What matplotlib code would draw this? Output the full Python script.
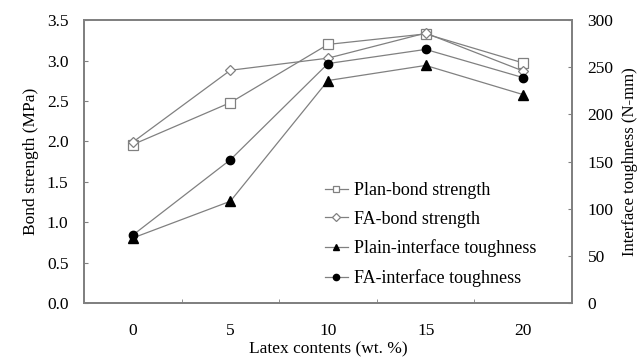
import matplotlib
matplotlib.use('Agg')
import matplotlib.pyplot as plt
from matplotlib.ticker import FixedLocator

latex = [0, 5, 10, 15, 20]
plan_bond = [1.96, 2.48, 3.20, 3.33, 2.97]
fa_bond = [1.99, 2.88, 3.03, 3.34, 2.87]
plain_tough = [69, 108, 236, 252, 221]
fa_tough = [72, 152, 254, 269, 239]

plt.rcParams['font.family'] = ['Liberation Serif', 'DejaVu Serif']
plt.rcParams['font.size'] = 12.5

gray = '#808080'
fig = plt.figure(figsize=(6.4, 3.6), dpi=100)
ax = fig.add_axes([0.131, 0.158, 0.763, 0.786])
ax2 = ax.twinx()

ax.plot(latex, plan_bond, '-s', color=gray, lw=0.9, ms=6.5,
        mfc='white', mec=gray, mew=0.9, label='Plan-bond strength')
ax.plot(latex, fa_bond, '-D', color=gray, lw=0.9, ms=5,
        mfc='white', mec=gray, mew=0.9, label='FA-bond strength')
ax2.plot(latex, plain_tough, '-^', color=gray, lw=0.9, ms=6.5,
         mfc='black', mec='black', label='Plain-interface toughness')
ax2.plot(latex, fa_tough, '-o', color=gray, lw=0.9, ms=6,
         mfc='black', mec='black', label='FA-interface toughness')

ax.set_xlim(-2.5, 22.5)
ax.set_ylim(0, 3.5)
ax2.set_ylim(0, 300)
ax.set_xticks(latex)
ax.xaxis.set_minor_locator(FixedLocator([2.5, 7.5, 12.5, 17.5]))
ax.tick_params(axis='x', which='major', length=0, pad=14)
ax.tick_params(axis='x', which='minor', direction='in', length=3, color=gray)
ax.set_yticks([0, 0.5, 1.0, 1.5, 2.0, 2.5, 3.0, 3.5])
ax.set_yticklabels(['0.0', '0.5', '1.0', '1.5', '2.0', '2.5', '3.0', '3.5'])
ax.tick_params(axis='y', direction='in', length=3, color=gray, pad=11)
ax2.set_yticks(range(0, 301, 50))
ax2.tick_params(axis='y', direction='in', length=3, color=gray, pad=11)

for a in (ax, ax2):
    for s in a.spines.values():
        s.set_color(gray)
        s.set_linewidth(1.3)

ax.set_xlabel('Latex contents (wt. %)', labelpad=2)
ax.set_ylabel('Bond strength (MPa)', labelpad=6)
ax2.set_ylabel('Interface toughness (N-mm)', labelpad=6, fontsize=12)

h1, l1 = ax.get_legend_handles_labels()
h2, l2 = ax2.get_legend_handles_labels()
ax2.legend(h1 + h2, l1 + l2, loc='lower left', bbox_to_anchor=(0.46, 0.0),
           frameon=False, handlelength=1.3, handletextpad=0.3,
           labelspacing=0.65, fontsize=13, markerscale=0.75)

plt.savefig('out.png', dpi=100)
